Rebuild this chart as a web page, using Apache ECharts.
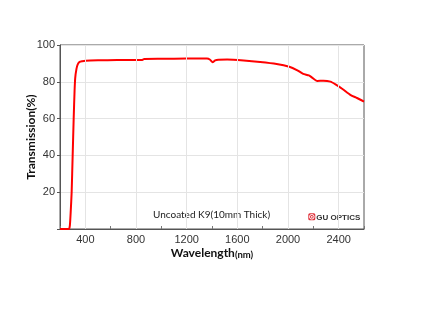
<!DOCTYPE html>
<html>
<head>
<meta charset="utf-8">
<script src="https://cdn.jsdelivr.net/npm/echarts@6/dist/echarts.min.js"></script>
<style>html,body{margin:0;padding:0;background:#fff;}#c{width:428px;height:312px;}</style>
</head>
<body>
<div id="c"></div>
<script>
const wavelength = [200, 270, 278, 285, 292, 300, 308, 315, 320, 330, 340, 355, 375, 400, 500, 650, 850, 865, 1000, 1200, 1360, 1385, 1405, 1425, 1450, 1520, 1650, 1780, 1910, 2010, 2070, 2120, 2165, 2190, 2230, 2280, 2335, 2375, 2430, 2495, 2545, 2600];
const transmission = [0, 0, 2, 10, 20, 40, 60, 75, 82, 87, 89.5, 90.8, 91.2, 91.5, 91.7, 91.8, 91.9, 92.4, 92.5, 92.6, 92.6, 92.0, 90.6, 91.6, 92.0, 92.1, 91.6, 90.8, 89.7, 88.2, 86.4, 84.3, 83.5, 82.3, 80.5, 80.6, 80.1, 78.6, 76.1, 72.8, 71.2, 69.2];
const xLabelTicks = [400, 800, 1200, 1600, 2000, 2400];
const yTicks = [20, 40, 60, 80, 100];
const chartTitle = 'Uncoated K9(10mm Thick)';
const brand = 'GU OPTICS';

const chart = echarts.init(document.getElementById('c'), null, {renderer: 'canvas'});
chart.setOption({
  animation: false,
  backgroundColor: '#fff',
  grid: {left: 60, top: 45, right: 64, bottom: 83, show: true, borderColor: '#555', borderWidth: 1, backgroundColor: 'transparent'},
  xAxis: {
    type: 'value', min: 200, max: 2600, interval: 200,
    name: '{a|Wavelength}{b|(nm)}', nameLocation: 'middle', nameGap: 18, nameMoveOverlap: false,
    nameTextStyle: {rich: {
      a: {fontFamily: 'Lato', fontWeight: 'bold', fontSize: 12, color: '#111'},
      b: {fontFamily: 'Lato', fontWeight: 'bold', fontSize: 9.5, color: '#111', padding: [3, 0, 0, 0]}
    }},
    axisLine: {show: true, lineStyle: {color: '#555', width: 1}},
    axisTick: {show: true, inside: true, length: 3, lineStyle: {color: '#777'}},
    axisLabel: {
      margin: 5, fontFamily: 'Liberation Sans', fontSize: 11, color: '#333',
      formatter: v => xLabelTicks.indexOf(v) >= 0 ? String(v) : ''
    },
    splitLine: {show: false}
  },
  yAxis: {
    type: 'value', min: 0, max: 100, interval: 20,
    name: 'Transmission(%)', nameLocation: 'middle', nameGap: 23, nameMoveOverlap: false,
    nameTextStyle: {fontFamily: 'Lato', fontWeight: 'bold', fontSize: 12, color: '#111'},
    axisLine: {show: true, lineStyle: {color: '#555', width: 1}},
    axisTick: {show: true, inside: false, length: 3, lineStyle: {color: '#555'}},
    axisLabel: {
      margin: 5, fontFamily: 'Liberation Sans', fontSize: 11, color: '#333',
      formatter: v => yTicks.indexOf(v) >= 0 ? String(v) : ''
    },
    splitLine: {show: true, lineStyle: {color: '#e4e4e4', width: 1}}
  },
  series: [
    {
      type: 'line', data: [], z: 1, silent: true,
      markLine: {
        silent: true, symbol: 'none', label: {show: false},
        lineStyle: {color: '#e4e4e4', type: 'solid', width: 1},
        data: xLabelTicks.map(v => ({xAxis: v}))
      }
    },
    {
      type: 'line', z: 3,
      data: wavelength.map((w, i) => [w, transmission[i]]),
      showSymbol: false, smooth: 0.2,
      lineStyle: {color: '#ff0000', width: 2},
      itemStyle: {color: '#ff0000'}
    }
  ],
  graphic: [
    {type: 'text', left: 153, top: 210, style: {text: chartTitle, fontFamily: 'Lato', fontSize: 10, fill: '#222'}},
    {type: 'group', left: 307, top: 212, children: [
      {type: 'rect', shape: {x: 0, y: 0, width: 7, height: 7, r: 1.5}, style: {fill: '#e0303a'}},
      {type: 'circle', shape: {cx: 3.5, cy: 3.5, r: 2.3}, style: {fill: 'none', stroke: '#fff', lineWidth: 1}},
      {type: 'circle', shape: {cx: 3.5, cy: 3.5, r: 0.9}, style: {fill: '#fff'}},
      {type: 'text', x: 8, y: 0, style: {text: brand, fontFamily: 'Liberation Sans', fontWeight: 'bold', fontSize: 8, fill: '#333'}}
    ]}
  ]
});
</script>
</body>
</html>
